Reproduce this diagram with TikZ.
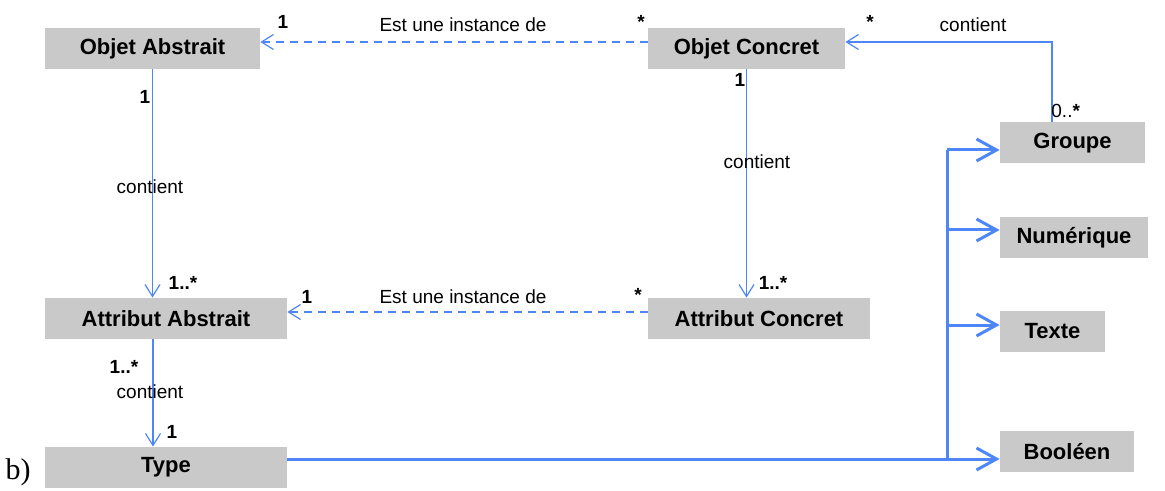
\documentclass[tikz,border=0pt]{standalone}
\usepackage{fontspec}
\setmainfont{Liberation Sans}
\newfontfamily\serifb{Liberation Serif}
\usepackage{tikz}
\usetikzlibrary{arrows.meta}
\definecolor{umlblue}{HTML}{4F86F7}
\definecolor{boxgray}{HTML}{C9C9C9}

\begin{document}
\begin{tikzpicture}[
    x=0.5pt, y=-0.5pt,
    cls/.style={rectangle, fill=boxgray, minimum height=20.5pt, inner sep=0pt, font=\fontsize{11}{13}\selectfont\bfseries},
    lbl/.style={font=\fontsize{9.5}{11}\selectfont, inner sep=0pt},
    mult/.style={font=\fontsize{9.5}{11}\selectfont\bfseries, inner sep=0pt},
    assoc/.style={-{Straight Barb[length=6pt, width=7.5pt]}, umlblue, line width=0.6pt},
    inst/.style={assoc, dash pattern=on 4pt off 3pt},
    gen/.style={umlblue, line width=1.5pt},
    genarr/.style={gen, -{Straight Barb[length=10pt, width=11pt]}},
]
\useasboundingbox (0,0) rectangle (1165,491);

\node[cls, minimum width=107.5pt] (oa) at (152.5,48.5) {Objet Abstrait};
\node[cls, minimum width=98.5pt] (oc) at (746.5,48.5) {Objet Concret};
\node[cls, minimum width=121pt] (aa) at (166,318.5) {Attribut Abstrait};
\node[cls, minimum width=111pt] (ac) at (759,318.5) {Attribut Concret};
\node[cls, minimum width=121pt] (ty) at (166,467.5) {Type};
\node[cls, minimum width=72.5pt] (gr) at (1072.5,143) {Groupe};
\node[cls, minimum width=74pt] (nu) at (1074,237.5) {Numérique};
\node[cls, minimum width=52.5pt] (te) at (1052.5,331.5) {Texte};
\node[cls, minimum width=67pt] (bo) at (1067,451.5) {Booléen};

\draw[inst] ([yshift=3.25pt]oc.west) -- ([yshift=3.25pt]oa.east);
\draw[inst] ([yshift=3.25pt]ac.west) -- ([yshift=3.25pt]aa.east);
\draw[assoc] (oa.south) -- (oa.south |- aa.north);
\draw[assoc] (oc.south) -- (oc.south |- ac.north);
\draw[assoc] ([xshift=-6.5pt]aa.south) -- ([xshift=-6.5pt]ty.north);
\draw[assoc] ([xshift=-10.25pt]gr.north) |- ([yshift=3.25pt]oc.east);

\coordinate (jg) at (947,150);
\coordinate (jn) at (947,230);
\coordinate (jt) at (947,325);
\coordinate (jb) at (947,459);
\draw[gen] (ty.east |- jb) -- (jb) -- (jg);
\draw[genarr] (jg) -- (jg -| gr.west);
\draw[genarr] (jn) -- (jn -| nu.west);
\draw[genarr] (jt) -- (jt -| te.west);
\draw[genarr] (jb) -- (jb -| bo.west);

\node[lbl] (l1) at (463,25) {Est une instance de};
\node[mult] (l2) at (283,22) {1};
\node[mult] (l3) at (641,22) {*};
\node[mult] (l4) at (870,22) {*};
\node[lbl] (l5) at (973,25) {contient};
\node[lbl, anchor=west] (l6) at (1051,111) {0..\textbf{*}};
\node[mult] (l7) at (145,97) {1};
\node[lbl] (l8) at (150,187) {contient};
\node[mult] (l9) at (183,283) {1..*};
\node[mult] (l10) at (740,80) {1};
\node[lbl] (l11) at (757,162) {contient};
\node[mult] (l12) at (773,283) {1..*};
\node[lbl] (l13) at (463,297) {Est une instance de};
\node[mult] (l14) at (307,297) {1};
\node[mult] (l15) at (638,295) {*};
\node[mult] (l16) at (124,367) {1..*};
\node[lbl] (l17) at (150,392) {contient};
\node[mult] (l18) at (172,432) {1};
\node[font=\serifb\fontsize{15}{17}\selectfont, inner sep=0pt] (cap) at (18,472) {b)};
\end{tikzpicture}
\end{document}
